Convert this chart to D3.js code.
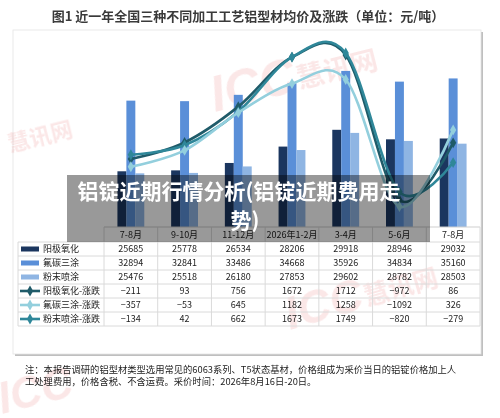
<!DOCTYPE html>
<html><head><meta charset="utf-8">
<script src="https://cdn.jsdelivr.net/npm/d3@7/dist/d3.min.js"></script>
<style>
html,body{margin:0;padding:0;background:#fff;}
svg{display:block;font-family:"Noto Sans CJK SC","Noto Sans",sans-serif;}
</style></head>
<body>
<script>
const categories = ['7-8月','9-10月','11-12月','2026年1-2月','3-4月','5-6月','7-8月'];
const barSeries = ['阳极氧化','氟碳三涂','粉末喷涂'];
const anodized = [25685,25778,26534,28206,29918,28946,29032];
const fluorocarbon = [32894,32841,33486,34668,35926,34834,35160];
const powder = [25476,25518,26180,27853,29602,28782,28503];
const lineSeries = ['阳极氧化-涨跌','氟碳三涂-涨跌','粉末喷涂-涨跌'];
const anodizedChg = [-211,93,756,1672,1712,-972,86];
const fluorocarbonChg = [-357,-53,645,1182,1258,-1092,326];
const powderChg = [-134,42,662,1673,1749,-820,-279];
const titleText = '图1  近一年全国三种不同加工工艺铝型材均价及涨跌（单位：元/吨）';
const overlayLines = ['铝锭近期行情分析(铝锭近期费用走','势)'];
const noteLines = ['注：本报告调研的铝型材类型选用常见的6063系列、T5状态基材，价格组成为采价当日的铝锭价格加上人',
                   '工处理费用，价格含税、不含运费。采价时间：2026年8月16日-20日。'];

const barValues = [anodized, fluorocarbon, powder];
const lineValues = [anodizedChg, fluorocarbonChg, powderChg];
const barColors = ['#1b365f','#5a8fd8','#8fb5e3'];
const lineColors = ['#1f5b69','#93cfdd','#2f8799'];

const W = 500, H = 418;
const svg = d3.select('body').append('svg').attr('width', W).attr('height', H);

// frame with shadow
svg.append('rect').attr('x', 15).attr('y', 32).attr('width', 468).attr('height', 324).attr('fill', '#8a8a8a').attr('opacity', 0.55);
svg.append('rect').attr('x', 13).attr('y', 30).attr('width', 468).attr('height', 324).attr('fill', '#fff').attr('stroke', '#e4e4e4').attr('stroke-width', 0.8);

// watermarks
const wm = svg.append('g').attr('fill', '#e04848').attr('opacity', 0.13).attr('font-weight', 'bold');
function mark(px, py, size, rot, txt, sub) {
  const g = wm.append('g').attr('transform', `translate(${px},${py}) rotate(${rot})`);
  g.append('text').attr('font-size', size).attr('font-style', 'italic').attr('font-family', 'Liberation Sans, Arial, sans-serif').text(txt);
  if (sub) g.append('text').attr('x', size * 1.75).attr('y', -size * 0.05).attr('font-size', size * 0.55).text(sub);
}
mark(215, 112, 50, -14, 'ICC', '慧讯网');
mark(290, 330, 46, -16, 'ICC', '慧讯网');
mark(2, 414, 44, -14, 'ICC');
wm.append('text').attr('transform', 'translate(10,152) rotate(-14)').attr('font-size', 22).text('慧讯网');

// title
svg.append('text').attr('x', 248).attr('y', 21).attr('text-anchor', 'middle')
  .attr('font-size', 13).attr('font-weight', 'bold').attr('fill', '#3a3a3a').text(titleText);

// scales
const idx = d3.range(categories.length);
const x = d3.scaleBand().domain(idx).range([104, 480]).padding(0);
const bw = x.bandwidth();
const x1 = d3.scaleBand().domain(d3.range(barSeries.length)).range([bw * 0.25, bw * 0.75]).padding(0);
const y = d3.scaleLinear().domain([20000, 40000]).range([227, 31]);
const y2 = d3.scaleLinear().domain([-1500, 2000]).range([147.5 + 1500 / 18.5, 147.5 - 2000 / 18.5]);

// bars
const bars = svg.append('g');
barValues.forEach((vals, s) => {
  bars.selectAll(null).data(idx).enter().append('rect')
    .attr('x', i => x(i) + x1(s))
    .attr('y', i => y(vals[i]))
    .attr('width', x1.bandwidth())
    .attr('height', i => y(20000) - y(vals[i]))
    .attr('fill', barColors[s]);
});

// lines
const diamond = d3.symbol().type(d3.symbolDiamond).size(34);
const lineGen = d3.line().x(i => x(i) + bw / 2).curve(d3.curveCardinal.tension(0));
[0, 2, 1].forEach(s => {
  const vals = lineValues[s];
  const g = svg.append('g');
  g.append('path').attr('d', lineGen.y(i => y2(vals[i]))(idx))
    .attr('fill', 'none').attr('stroke', lineColors[s]).attr('stroke-width', 2.6);
  g.selectAll(null).data(idx).enter().append('path')
    .attr('d', diamond).attr('transform', i => `translate(${x(i) + bw / 2},${y2(vals[i])})`)
    .attr('fill', lineColors[s]);
});

// table
const grid = '#dadada';
const tbl = svg.append('g').attr('font-size', 9).attr('fill', '#222');
const tTop = 227, headH = 15, rowH = 14;
const rowsTop = tTop + headH;
const nRows = 6;
tbl.append('line').attr('x1', 104).attr('x2', 480).attr('y1', tTop).attr('y2', tTop).attr('stroke', '#cfcfcf');
for (let r = 0; r <= nRows; r++) {
  tbl.append('line').attr('x1', 18).attr('x2', 480).attr('y1', rowsTop + r * rowH).attr('y2', rowsTop + r * rowH).attr('stroke', grid);
}
tbl.append('line').attr('x1', 18).attr('x2', 18).attr('y1', rowsTop).attr('y2', rowsTop + nRows * rowH).attr('stroke', grid);
idx.concat([categories.length]).forEach(i => {
  const xx = i < categories.length ? x(i) : 480;
  tbl.append('line').attr('x1', xx).attr('x2', xx).attr('y1', tTop).attr('y2', rowsTop + nRows * rowH).attr('stroke', grid);
});
tbl.selectAll(null).data(idx).enter().append('text')
  .attr('x', i => x(i) + bw / 2).attr('y', tTop + 11).attr('text-anchor', 'middle').text(i => categories[i]);
const allRows = barValues.concat(lineValues);
const allNames = barSeries.concat(lineSeries);
allRows.forEach((vals, r) => {
  const cy = rowsTop + r * rowH + rowH / 2;
  tbl.selectAll(null).data(idx).enter().append('text')
    .attr('x', i => x(i) + bw / 2).attr('y', cy + 3.3).attr('text-anchor', 'middle')
    .text(i => vals[i] < 0 ? '−' + Math.abs(vals[i]) : vals[i]);
  tbl.append('text').attr('x', 43).attr('y', cy + 3.3).text(allNames[r]);
  if (r < 3) {
    tbl.append('rect').attr('x', 21).attr('y', cy - 2.5).attr('width', 18).attr('height', 5).attr('fill', barColors[r]);
  } else {
    const c = lineColors[r - 3];
    tbl.append('line').attr('x1', 20).attr('x2', 40).attr('y1', cy).attr('y2', cy).attr('stroke', c).attr('stroke-width', 2.6);
    tbl.append('path').attr('d', diamond).attr('transform', `translate(30,${cy})`).attr('fill', c);
  }
});

// overlay caption
svg.append('rect').attr('x', 67).attr('y', 175).attr('width', 363).attr('height', 67).attr('fill', '#000').attr('opacity', 0.4);
const ov = svg.append('g').attr('fill', '#fff').attr('font-size', 21).attr('font-weight', 'bold');
ov.append('text').attr('x', 239).attr('y', 199).attr('text-anchor', 'middle').text(overlayLines[0]);
ov.append('text').attr('x', 245).attr('y', 228).attr('text-anchor', 'middle').text(overlayLines[1]);

// footnote
const nt = svg.append('g').attr('font-size', 9.3).attr('fill', '#222');
noteLines.forEach((t, i) => nt.append('text').attr('x', 25).attr('y', 373 + i * 11.5).text(t));
</script>
</body></html>
